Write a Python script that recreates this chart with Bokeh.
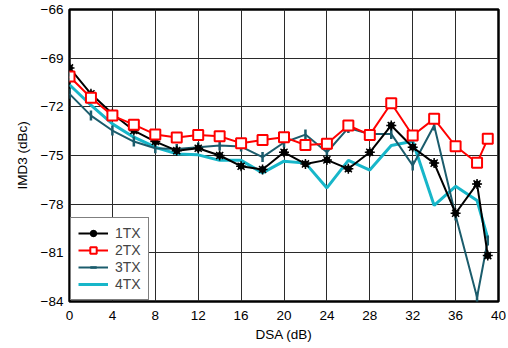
import math
from bokeh.plotting import figure
from bokeh.models import Legend, LegendItem, FixedTicker
from bokeh.embed import file_html
from bokeh.resources import INLINE

dsa = [0, 2, 4, 6, 8, 10, 12, 14, 16, 18, 20, 22, 24, 26, 28, 30, 32, 34, 36, 38, 39]
tx1 = [-69.6, -71.2, -72.43, -73.46, -74.14, -74.7, -74.55, -75.0, -75.66, -75.86, -74.8,
       -75.52, -75.27, -75.82, -74.8, -73.15, -74.49, -75.47, -78.56, -76.75, -81.17]
tx2 = [-70.13, -71.44, -72.54, -73.1, -73.7, -73.89, -73.73, -73.81, -74.24, -74.04, -73.87,
       -74.35, -74.28, -73.15, -73.73, -71.78, -73.77, -72.74, -74.43, -75.45, -73.97]
tx3 = [-71.2, -72.54, -73.46, -74.14, -74.55, -74.6, -74.49, -74.38, -74.45, -75.1, -74.2,
       -73.71, -74.8, -73.3, -73.67, -73.67, -75.62, -73.15, -78.7, -83.74, -80.24]
tx4 = [-70.64, -71.9, -73.05, -73.87, -74.49, -74.9, -74.96, -75.3, -75.3, -76.07, -75.35,
       -75.47, -77.0, -75.3, -75.9, -74.38, -74.12, -78.08, -76.9, -77.78, -80.1]

x_ticks = [0, 4, 8, 12, 16, 20, 24, 28, 32, 36, 40]
y_ticks = [-84, -81, -78, -75, -72, -69, -66]

FONT = "Liberation Sans"
FS = "13.5px"

p = figure(width=506, height=346, x_range=(0, 40), y_range=(-84, -66),
           output_backend="svg", toolbar_location=None,
           min_border_left=69, min_border_right=8, min_border_top=9, min_border_bottom=45)

p.outline_line_color = "black"
p.outline_line_width = 2.5
for g in (p.xgrid[0], p.ygrid[0]):
    g.grid_line_color = "#2a2a2a"
    g.grid_line_width = 1
p.xaxis.ticker = FixedTicker(ticks=x_ticks)
p.yaxis.ticker = FixedTicker(ticks=y_ticks)
p.xgrid.ticker = FixedTicker(ticks=x_ticks)
p.ygrid.ticker = FixedTicker(ticks=y_ticks)

for ax in (p.xaxis[0], p.yaxis[0]):
    ax.axis_line_color = None
    ax.major_tick_line_color = None
    ax.minor_tick_line_color = None
    ax.major_tick_out = 0
    ax.major_tick_in = 0
    ax.minor_tick_out = 0
    ax.minor_tick_in = 0
    ax.major_label_text_font = FONT
    ax.major_label_text_font_size = FS
    ax.major_label_text_color = "black"
    ax.axis_label_text_font = FONT
    ax.axis_label_text_font_size = FS
    ax.axis_label_text_font_style = "normal"
    ax.axis_label_text_color = "black"
p.xaxis.axis_label = "DSA (dB)"
p.yaxis.axis_label = "IMD3 (dBc)"
p.xaxis.major_label_standoff = 9
p.xaxis.axis_label_standoff = 4
p.yaxis.major_label_standoff = 6
p.yaxis.axis_label_standoff = 8

l4 = p.line(dsa, tx4, line_color="#17b6c9", line_width=3)

l3 = p.line(dsa, tx3, line_color="#1b5c6c", line_width=2)
m3 = p.scatter(dsa, tx3, marker="dash", angle=math.pi / 2, size=10,
               line_color="#1b5c6c", line_width=2.5)

l1 = p.line(dsa, tx1, line_color="black", line_width=2)
m1a = p.scatter(dsa, tx1, marker="circle", size=6, fill_color="black", line_color="black")
m1b = p.scatter(dsa, tx1, marker="asterisk", size=10, line_color="black", line_width=1.5)

l2 = p.line(dsa, tx2, line_color="#ff0000", line_width=2)
m2 = p.scatter(dsa, tx2, marker="square", size=10, fill_color="white",
               line_color="#ff0000", line_width=2)

legend = Legend(items=[
    LegendItem(label="1TX", renderers=[l1, m1a, m1b]),
    LegendItem(label="2TX", renderers=[l2, m2]),
    LegendItem(label="3TX", renderers=[l3, m3]),
    LegendItem(label="4TX", renderers=[l4]),
], location="bottom_left")
legend.margin = 1
legend.padding = 7
legend.spacing = 1
legend.glyph_width = 30
legend.glyph_height = 16
legend.label_height = 16
legend.label_standoff = 7
legend.label_text_font = FONT
legend.label_text_font_size = "14px"
legend.border_line_color = "black"
legend.border_line_width = 1.5
legend.background_fill_color = "white"
legend.background_fill_alpha = 1
p.add_layout(legend)

open("out.html", "w").write(file_html(p, INLINE))
